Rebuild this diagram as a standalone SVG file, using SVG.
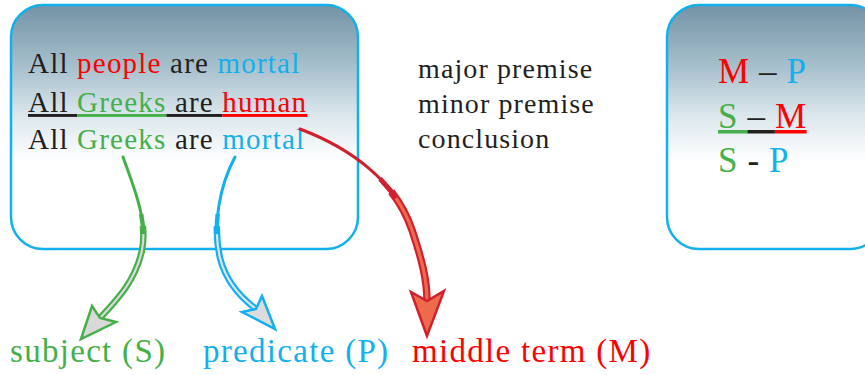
<svg xmlns="http://www.w3.org/2000/svg" width="865" height="375" viewBox="0 0 865 375">
<defs>
<linearGradient id="boxGrad" x1="0" y1="0" x2="0" y2="1">
<stop offset="0" stop-color="#7393a5"/>
<stop offset="0.25" stop-color="#a6bfcc"/>
<stop offset="0.45" stop-color="#dbe6ec"/>
<stop offset="0.64" stop-color="#ffffff"/>
<stop offset="1" stop-color="#ffffff"/>
</linearGradient>
<path id="pg" d="M123,157 C133,185 148,220 142,250 C136,280 117,300 100,318"/>
<path id="pb" d="M235,157 C220,185 212,225 220,258 C226,282 240,297 256,309"/>
<path id="pr" d="M300,129 C350,148 395,180 412,230 C422,260 427,280 427,301"/>
<style>
.box{fill:url(#boxGrad);stroke:#12b0ec;stroke-width:2.5}
.t{font-family:"Liberation Serif","Times New Roman",serif;fill:#231f20}
.k{fill:#231f20}
.g{fill:#45b04a}
.b{fill:#12b0ec}
.r{fill:#ff0000}
.u{text-decoration:underline}
.thin{fill:none;stroke-width:3;stroke-linecap:round}
.mid{fill:none;stroke-width:4.5;stroke-linecap:butt}
.thick{fill:none;stroke-width:6.5;stroke-linecap:butt}
.core{fill:none;stroke-width:2.2;stroke-linecap:butt}
.head{stroke-width:2.5;stroke-linejoin:miter}
</style>
</defs>
<g id="premises-box">
<rect class="box" x="11" y="5" width="347" height="244" rx="32" ry="32"/>
<text class="t" x="28" y="73" font-size="29" letter-spacing="1.2"><tspan class="k">All </tspan><tspan class="r">people</tspan><tspan class="k"> are </tspan><tspan class="b">mortal</tspan></text>
<text class="t" x="28" y="112" font-size="29" letter-spacing="1.2"><tspan class="k u">All </tspan><tspan class="g u">Greeks</tspan><tspan class="k u"> are </tspan><tspan class="r u">human</tspan></text>
<text class="t" x="28" y="149" font-size="29" letter-spacing="1.2"><tspan class="k">All </tspan><tspan class="g">Greeks</tspan><tspan class="k"> are </tspan><tspan class="b">mortal</tspan></text>
</g>
<g id="premise-labels">
<text class="t" x="418" y="78" font-size="28" letter-spacing="1.1">major premise</text>
<text class="t" x="418" y="113" font-size="28" letter-spacing="1.1">minor premise</text>
<text class="t" x="418" y="148" font-size="28" letter-spacing="1.1">conclusion</text>
</g>
<g id="form-box">
<rect class="box" x="667" y="5" width="215" height="244" rx="32" ry="32"/>
<text class="t" x="718" y="83" font-size="35" letter-spacing="0.6"><tspan class="r">M</tspan><tspan class="k"> – </tspan><tspan class="b">P</tspan></text>
<text class="t" x="718" y="128" font-size="35" letter-spacing="0.6"><tspan class="g u">S </tspan><tspan class="k u">– </tspan><tspan class="r u">M</tspan></text>
<text class="t" x="718" y="172" font-size="35" letter-spacing="0.6"><tspan class="g">S</tspan><tspan class="k"> - </tspan><tspan class="b">P</tspan></text>
</g>
<g id="connectors">
<!-- green: Greeks -> subject -->
<use href="#pg" class="thin" stroke="#45b04a"/>
<use href="#pg" class="mid" stroke="#45b04a" stroke-dasharray="0 60 400"/>
<use href="#pg" class="thick" stroke="#45b04a" stroke-dasharray="0 72 400"/>
<use href="#pg" class="core" stroke="#d9d9d9" stroke-dasharray="0 80 400"/>
<polygon class="head" points="81,339 92,306 100,318 116,322" fill="#d9d9d9" stroke="#45b04a"/>
<!-- blue: mortal -> predicate -->
<use href="#pb" class="thin" stroke="#12b0ec"/>
<use href="#pb" class="mid" stroke="#12b0ec" stroke-dasharray="0 60 400"/>
<use href="#pb" class="thick" stroke="#12b0ec" stroke-dasharray="0 72 400"/>
<use href="#pb" class="core" stroke="#dde3e6" stroke-dasharray="0 80 400"/>
<polygon class="head" points="275,329 262,296 256,309 242,312" fill="#dcdcdc" stroke="#12b0ec"/>
<!-- red: human -> middle term -->
<use href="#pr" class="thin" stroke="#d0202e"/>
<use href="#pr" class="mid" stroke="#d0202e" stroke-dasharray="0 95 400" style="stroke-width:5"/>
<use href="#pr" class="thick" stroke="#d0202e" stroke-dasharray="0 112 400" style="stroke-width:7.5"/>
<use href="#pr" class="core" stroke="#ef6a4b" stroke-dasharray="0 120 400" style="stroke-width:3.2"/>
<polygon class="head" points="427,336 411,292 427,301 444,291" fill="#ef6a4b" stroke="#d0202e"/>
</g>
<g id="term-labels">
<text class="t g" x="10" y="362" font-size="33" letter-spacing="1.3">subject (S)</text>
<text class="t b" x="203" y="362" font-size="33" letter-spacing="1.3">predicate (P)</text>
<text class="t r" x="412" y="362" font-size="33" letter-spacing="1.3">middle term (M)</text>
</g>
</svg>
